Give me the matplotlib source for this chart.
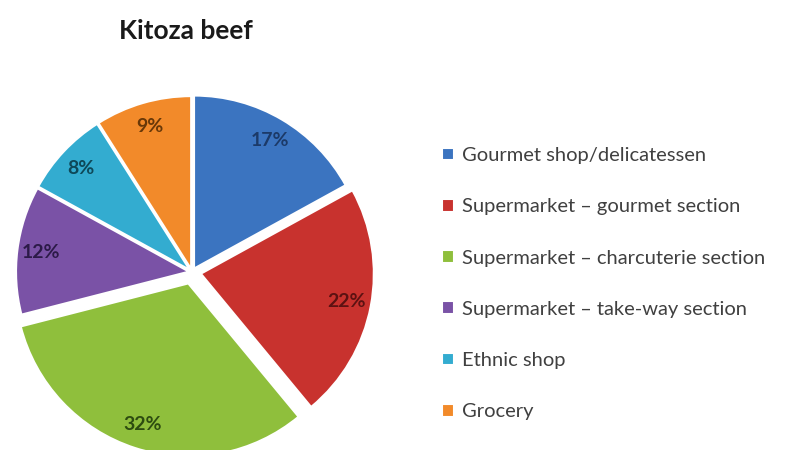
import matplotlib.pyplot as plt

# kitoza beef sales outlets, share in %
outlets = ["Gourmet shop/delicatessen",
           "Supermarket \u2013 gourmet section",
           "Supermarket \u2013 charcuterie section",
           "Supermarket \u2013 take-way section",
           "Ethnic shop",
           "Grocery"]
shares = [17, 22, 32, 12, 8, 9]

colors = ["#3b74c0", "#c8322e", "#8fbf3c", "#7a52a6", "#33acd0", "#f28a2a"]
label_colors = ["#1c3a68", "#5c1212", "#2d4c10", "#2c1a48", "#0e4858", "#683808"]
# explode offsets are in data units (pixels here)
explode = [4, 9, 12, 3, 3, 3]

plt.rcParams['font.family'] = ['Lato', 'DejaVu Sans']

fig = plt.figure(figsize=(7.99, 4.5), dpi=100)
ax = fig.add_axes([0, 0, 1, 1])

wedges, texts, autotexts = ax.pie(
    shares, colors=colors, explode=explode, startangle=90, counterclock=False,
    center=(192, 178), radius=173, autopct='%d%%', pctdistance=0.86,
    wedgeprops=dict(edgecolor='white', linewidth=1.5),
    textprops=dict(fontsize=14, fontweight='bold'))
for t, c in zip(autotexts, label_colors):
    t.set_color(c)

# pie() resets the limits, so work in pixel units afterwards
ax.set_xlim(0, 799)
ax.set_ylim(0, 450)
ax.set_aspect('equal')
ax.axis('off')

ax.text(186, 419, "Kitoza beef", ha='center', va='center',
        fontsize=19, fontweight='bold', color='#1a1a1a')

leg = ax.legend(wedges, outlets, loc='upper left',
                bbox_to_anchor=(434 / 799, 1 - 139 / 450), frameon=False,
                fontsize=14.5, labelspacing=1.7, handlelength=0.6,
                handleheight=0.6, handletextpad=0.4, borderaxespad=0)
for txt in leg.get_texts():
    txt.set_color('#404040')

fig.savefig("out.png", dpi=100)
